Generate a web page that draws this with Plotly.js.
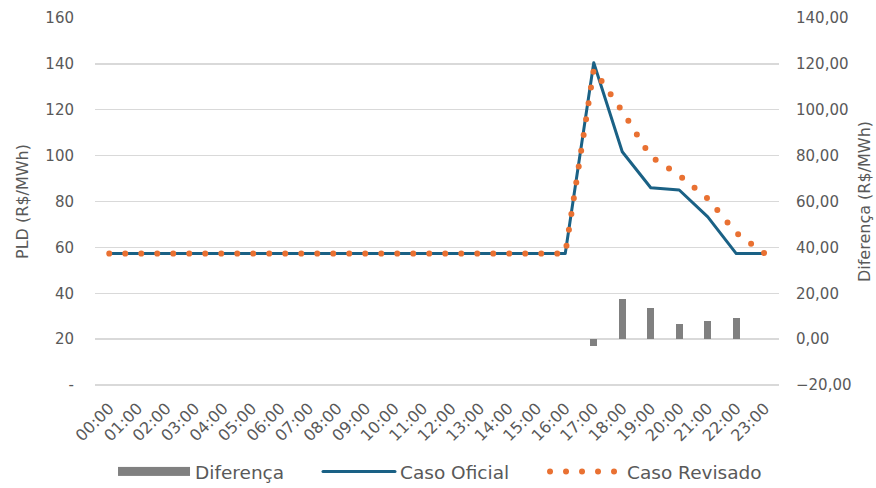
<!DOCTYPE html>
<html>
<head>
<meta charset="utf-8">
<script src="https://cdn.plot.ly/plotly-3.0.1.min.js"></script>
<style>
  html, body { margin: 0; padding: 0; background: #ffffff; }
  #chart { width: 876px; height: 488px; }
  path.js-line { stroke-linecap: round; stroke-linejoin: round; }
</style>
</head>
<body>
<div id="chart"></div>
<script>
const hours = ['00:00','01:00','02:00','03:00','04:00','05:00','06:00','07:00',
  '08:00','09:00','10:00','11:00','12:00','13:00','14:00','15:00',
  '16:00','17:00','18:00','19:00','20:00','21:00','22:00','23:00'];

const diferenca = [0,0,0,0,0,0,0,0,0,0,0,0,0,0,0,0,
  0,-3.0,17.7,13.6,6.4,8.0,9.0,0];

const casoOficial = [57.3,57.3,57.3,57.3,57.3,57.3,57.3,57.3,57.3,57.3,57.3,57.3,57.3,57.3,57.3,57.3,
  57.3,140.5,101.7,86.0,85.0,73.3,57.3,57.3];

const casoRevisado = [57.3,57.3,57.3,57.3,57.3,57.3,57.3,57.3,57.3,57.3,57.3,57.3,57.3,57.3,57.3,57.3,
  57.3,137.5,119.4,99.6,91.4,81.3,66.3,57.3];

const leftTickVals = [0,20,40,60,80,100,120,140,160];
const leftTickText = ['-','20','40','60','80','100','120','140','160'];
const rightTickVals = [-20,0,20,40,60,80,100,120,140];

const gray = '#595959';

const traces = [
  {
    type: 'bar', name: 'Diferença', x: hours, y: diferenca, yaxis: 'y2',
    marker: { color: '#808080' }, width: 0.25, legendwidth: 120
  },
  {
    type: 'scatter', mode: 'lines', name: 'Caso Oficial', x: hours, y: casoOficial,
    line: { color: '#1a6185', width: 3 }, legendwidth: 142
  },
  {
    type: 'scatter', mode: 'lines', name: 'Caso Revisado', x: hours, y: casoRevisado,
    line: { color: '#E97132', width: 6, dash: '0px,16px' }, legendwidth: 136
  }
];

const layout = {
  width: 876, height: 488,
  margin: { l: 95, r: 97, t: 18, b: 103 },
  paper_bgcolor: '#ffffff', plot_bgcolor: '#ffffff',
  font: { family: 'DejaVu Sans, sans-serif', color: gray, size: 15 },
  separators: ',.',
  showlegend: true,
  bargap: 0,
  xaxis: {
    type: 'category', range: [-0.5, 23.5], tickangle: -45, automargin: false,
    tickfont: { size: 16, color: gray }, showgrid: false, zeroline: false,
    showline: false, ticks: '', ticklabelstandoff: 10
  },
  yaxis: {
    range: [0, 160], tickvals: leftTickVals, ticktext: leftTickText, automargin: false,
    tickfont: { size: 15, color: gray }, gridcolor: '#d9d9d9', gridwidth: 1.3,
    zeroline: true, zerolinecolor: '#d9d9d9', zerolinewidth: 1.3,
    showline: false, ticks: '', ticklabelstandoff: 20,
    title: { text: 'PLD (R$/MWh)', font: { size: 16, color: gray }, standoff: 12 }
  },
  yaxis2: {
    overlaying: 'y', side: 'right', range: [-20, 140], tickvals: rightTickVals,
    tickformat: '.2f', tickfont: { size: 15, color: gray }, automargin: false,
    showgrid: false, zeroline: false, showline: false, ticks: '', ticklabelstandoff: 16,
    title: { text: 'Diferença (R$/MWh)', font: { size: 16, color: gray }, standoff: 8 }
  },
  legend: {
    orientation: 'h', xref: 'container', yref: 'container',
    x: 0.1313, xanchor: 'left', y: 0.033, yanchor: 'middle',
    font: { size: 18.5, color: gray }, itemwidth: 70, traceorder: 'normal'
  }
};

Plotly.newPlot('chart', traces, layout, { displayModeBar: false, staticPlot: true }).then(function (gd) {
  const NS = 'http://www.w3.org/2000/svg';
  const items = gd.querySelectorAll('.legend .traces');
  items.forEach(function (it, i) {
    if (i === 0) {
      const p = it.querySelector('.legendpoints path');
      if (p) p.style.display = 'none';
      const r = document.createElementNS(NS, 'rect');
      r.setAttribute('x', 3); r.setAttribute('y', -4.5);
      r.setAttribute('width', 72); r.setAttribute('height', 9);
      r.setAttribute('fill', '#808080');
      it.appendChild(r);
    } else {
      const p = it.querySelector('.legendlines path');
      if (p) p.setAttribute('d', 'M3,0h72');
    }
  });
});
</script>
</body>
</html>
